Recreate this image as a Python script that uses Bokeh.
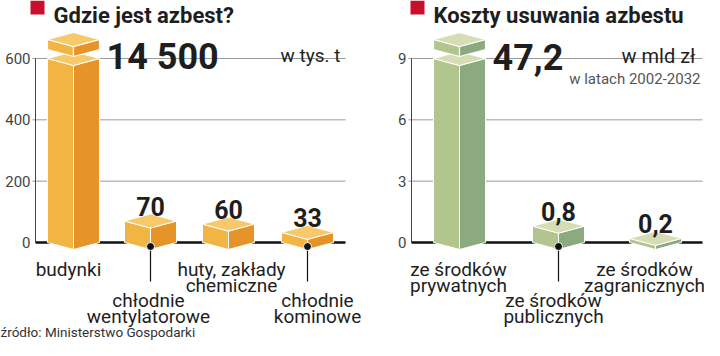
from bokeh.plotting import figure
from bokeh.models import Range1d
from bokeh.embed import file_html
from bokeh.resources import INLINE
from bokeh.core.properties import value

# ---------------- data ----------------
left_title = "Gdzie jest azbest?"
left_unit = "w tys. t"
left_cats = [["budynki"], ["chłodnie", "wentylatorowe"], ["huty, zakłady", "chemiczne"], ["chłodnie", "kominowe"]]
left_values = [14500, 70, 60, 33]
left_value_labels = ["14 500", "70", "60", "33"]
left_ticks = [0, 200, 400, 600]

right_title = "Koszty usuwania azbestu"
right_unit = "w mld zł"
right_note = "w latach 2002-2032"
right_cats = [["ze środków", "prywatnych"], ["ze środków", "publicznych"], ["ze środków", "zagranicznych"]]
right_values = [47.2, 0.8, 0.2]
right_value_labels = ["47,2", "0,8", "0,2"]
right_ticks = [0, 3, 6, 9]

source_text = "źródło: Ministerstwo Gospodarki"

# ---------------- layout / style ----------------
W, H = 704, 340
Y0, YT = 242, 58          # pixel rows of the zero line and of the top tick
FONT = value("Roboto")
DARK = "#1e1e1e"
RED = "#C8102E"
HW, D = 26, 7             # half width of a prism, iso depth (px)
CAP_GAP, CAP_T = 9, 10    # broken-bar cap

panels = [
    dict(name="L", title=left_title, unit=left_unit, unit_fs="19px", note=None, cats=left_cats,
         vals=left_values, labs=left_value_labels, ticks=left_ticks,
         ax=35, gx=345, xs=[73, 150, 228, 307], ldx=[-5, -2, 3, 10], low=[False, True, False, True],
         sq=30, unit_x=340, cols=("#F2B443", "#E6932A", "#F7C96A")),
    dict(name="R", title=right_title, unit=right_unit, unit_fs="20px", note=right_note, cats=right_cats,
         vals=right_values, labs=right_value_labels, ticks=right_ticks,
         ax=411, gx=702, xs=[459, 558, 655], ldx=[-1, -5, -11], low=[False, True, False],
         sq=410, unit_x=695, cols=("#B2C58F", "#8CAA80", "#D6DDB3")),
]

extra = {}
for pn in panels:
    k = (Y0 - YT) / pn["ticks"][-1]
    pn["k"] = k
    extra[pn["name"]] = Range1d(start=-(H - Y0) / k, end=Y0 / k)

p = figure(width=W, height=H, x_range=Range1d(0, W), y_range=Range1d(H, 0),
           output_backend="svg", toolbar_location=None, x_axis_type=None, y_axis_type=None,
           min_border=0, outline_line_color=None)
p.extra_y_ranges = extra
p.xgrid.visible = False
p.ygrid.visible = False
p.background_fill_color = "white"
p.border_fill_color = "white"

for pn in panels:
    rn, k, ax, gx = pn["name"], pn["k"], pn["ax"], pn["gx"]
    ticks = pn["ticks"]
    top = ticks[-1]
    # title
    p.quad(left=[pn["sq"]], right=[pn["sq"] + 14], top=[0], bottom=[14], fill_color=RED, line_color=None)
    p.text(x=[pn["sq"] + 23], y=[15], text=[pn["title"]], text_font=FONT, text_font_size="22px",
           text_font_style="bold", text_color=DARK, text_baseline="alphabetic")
    # grid lines and axis
    gt = [t for t in ticks if t > 0]
    p.segment(x0=[ax - 3] * len(gt), x1=[gx] * len(gt), y0=gt, y1=gt, line_color="#9a9a9a",
              line_width=1, y_range_name=rn)
    p.segment(x0=[ax], x1=[ax], y0=[ticks[0]], y1=[top], line_color="#444", line_width=1, y_range_name=rn)
    p.text(x=[ax - 5] * len(ticks), y=ticks, text=[str(t) for t in ticks], text_font=FONT,
           text_font_size="15px", text_color="#444", text_align="right", text_baseline="middle",
           y_range_name=rn)
    # unit texts
    p.text(x=[pn["unit_x"]], y=[55], text=[pn["unit"]], text_font=FONT, text_font_size=pn["unit_fs"],
           text_color=DARK, text_align="right", text_baseline="alphabetic")
    if pn["note"]:
        p.text(x=[pn["unit_x"] + 5], y=[78], text=[pn["note"]], text_font=FONT, text_font_size="15px",
               text_color="#555", text_align="right", text_baseline="alphabetic")
    # prisms
    du = D / k
    cl, cr, ct = pn["cols"]
    lx, ly, rx, ry, tx, ty = [], [], [], [], [], []
    for cx, v in zip(pn["xs"], pn["vals"]):
        vd = min(v, top)
        lx.append([cx - HW, cx, cx, cx - HW]); ly.append([0, -du, vd - du, vd])
        rx.append([cx, cx + HW, cx + HW, cx]); ry.append([-du, 0, vd, vd - du])
        tx.append([cx - HW, cx, cx + HW, cx]); ty.append([vd, vd - du, vd, vd + du])
    # baseline drawn before bars
    p.segment(x0=[ax], x1=[gx], y0=[0], y1=[0], line_color="#111", line_width=2.5, y_range_name=rn)
    for xs_, ys_, c in ((lx, ly, cl), (rx, ry, cr), (tx, ty, ct)):
        p.patches(xs=xs_, ys=ys_, fill_color=c, line_color="white", line_width=1, y_range_name=rn)
    # caps for values beyond the axis
    clx, cly, crx, cry, ctx, cty = [], [], [], [], [], []
    for cx, v in zip(pn["xs"], pn["vals"]):
        if v > top:
            b = top + CAP_GAP / k
            t = top + (CAP_GAP + CAP_T) / k
            clx.append([cx - HW, cx, cx, cx - HW]); cly.append([b, b - du, t - du, t])
            crx.append([cx, cx + HW, cx + HW, cx]); cry.append([b - du, b, t, t - du])
            ctx.append([cx - HW, cx, cx + HW, cx]); cty.append([t, t - du, t, t + du])
    for xs_, ys_, c in ((clx, cly, cl), (crx, cry, cr), (ctx, cty, ct)):
        if xs_:
            p.patches(xs=xs_, ys=ys_, fill_color=c, line_color="white", line_width=1.2, y_range_name=rn)
    # value labels
    for cx, v, lab in zip(pn["xs"], pn["vals"], pn["labs"]):
        if v > top:
            p.text(x=[cx + HW + 7], y=[top], text=[lab], text_font=FONT, text_font_size="36px",
                   text_font_style="bold", text_color=DARK, text_baseline="alphabetic",
                   y_offset=-2, y_range_name=rn)
        else:
            p.text(x=[cx], y=[v], text=[lab], text_font=FONT, text_font_size="25px",
                   text_font_style="bold", text_color=DARK, text_align="center",
                   text_baseline="alphabetic", y_offset=-15, y_range_name=rn)
    # category labels, leader lines
    for cx, dx, lines, low in zip(pn["xs"], pn["ldx"], pn["cats"], pn["low"]):
        base = 300 if low else 269
        if low:
            p.segment(x0=[cx], x1=[cx], y0=[Y0 + 4], y1=[base - 19], line_color="#111", line_width=1.2)
            p.scatter(x=[cx], y=[Y0 + 4], size=8, fill_color="#111", line_color="white", line_width=1)
        for j, ln in enumerate(lines):
            p.text(x=[cx + dx], y=[base + 16 * j], text=[ln], text_font=FONT, text_font_size="19px",
                   text_color=DARK, text_align="center", text_baseline="alphabetic")

p.text(x=[0], y=[331], text=[source_text], text_font=FONT, text_font_size="13.5px",
       text_color="#333", text_baseline="alphabetic")

open("out.html", "w").write(file_html(p, INLINE))
